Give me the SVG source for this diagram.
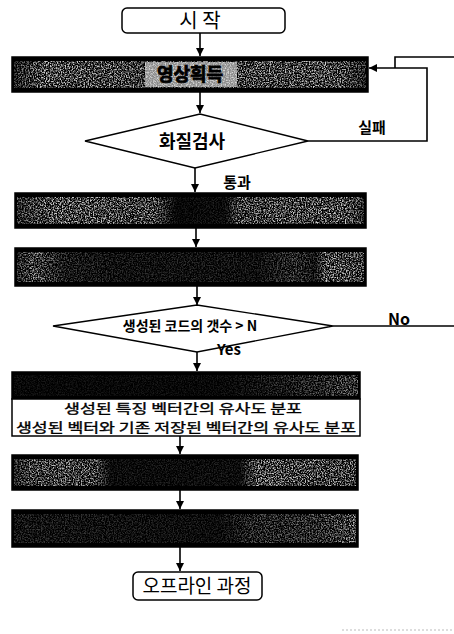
<svg xmlns="http://www.w3.org/2000/svg" width="454" height="634" viewBox="0 0 454 634">
<style>
.ln{fill:none;stroke:#000;stroke-width:1.6}
.k{font-family:"Noto Sans CJK KR","Liberation Sans",sans-serif;fill:#000}
.b{font-weight:bold}
.term{fill:#fff;stroke:#000;stroke-width:1.5}
.dia{fill:#fff;stroke:#000;stroke-width:1.4}
.dark{fill:#000;stroke:#000;stroke-width:1.5}
</style>
<defs>
<marker id="ah" viewBox="0 0 10 10" refX="10" refY="5" markerWidth="8" markerHeight="8" markerUnits="userSpaceOnUse" orient="auto">
<path d="M0,0 L10,5 L0,10 z" fill="#000"/>
</marker>
<filter id="nz" x="0" y="0" width="100%" height="100%">
<feTurbulence type="fractalNoise" baseFrequency="0.75" numOctaves="2" seed="4" result="t"/>
<feColorMatrix in="t" type="matrix" values="0 0 0 0 0.9  0 0 0 0 0.9  0 0 0 0 0.9  0 0 0 3.2 -1.3" result="w"/>
<feComposite in="w" in2="SourceGraphic" operator="in"/>
</filter>
<linearGradient id="g1" x1="0" x2="1" y1="0" y2="0">
<stop offset="0" stop-color="#fff" stop-opacity="0.4"/>
<stop offset="0.08" stop-color="#fff" stop-opacity="0.85"/>
<stop offset="0.3" stop-color="#fff" stop-opacity="0.8"/>
<stop offset="0.4" stop-color="#fff" stop-opacity="0.7"/>
<stop offset="0.6" stop-color="#fff" stop-opacity="0.7"/>
<stop offset="0.7" stop-color="#fff" stop-opacity="0.8"/>
<stop offset="0.92" stop-color="#fff" stop-opacity="0.85"/>
<stop offset="1" stop-color="#fff" stop-opacity="0.4"/>
</linearGradient>
<linearGradient id="g2" x1="0" x2="1" y1="0" y2="0">
<stop offset="0" stop-color="#fff" stop-opacity="0.5"/>
<stop offset="0.1" stop-color="#fff" stop-opacity="0.85"/>
<stop offset="0.4" stop-color="#fff" stop-opacity="0.75"/>
<stop offset="0.46" stop-color="#fff" stop-opacity="0.1"/>
<stop offset="0.6" stop-color="#fff" stop-opacity="0.15"/>
<stop offset="0.64" stop-color="#fff" stop-opacity="0.75"/>
<stop offset="0.95" stop-color="#fff" stop-opacity="0.85"/>
<stop offset="1" stop-color="#fff" stop-opacity="0.5"/>
</linearGradient>
<linearGradient id="g3" x1="0" x2="1" y1="0" y2="0">
<stop offset="0" stop-color="#fff" stop-opacity="0.4"/>
<stop offset="0.05" stop-color="#fff" stop-opacity="0.75"/>
<stop offset="0.14" stop-color="#fff" stop-opacity="0.3"/>
<stop offset="0.3" stop-color="#fff" stop-opacity="0.2"/>
<stop offset="0.7" stop-color="#fff" stop-opacity="0.2"/>
<stop offset="0.8" stop-color="#fff" stop-opacity="0.45"/>
<stop offset="0.86" stop-color="#fff" stop-opacity="0.25"/>
<stop offset="0.89" stop-color="#fff" stop-opacity="0.85"/>
<stop offset="1" stop-color="#fff" stop-opacity="0.7"/>
</linearGradient>
<linearGradient id="g4" x1="0" x2="1" y1="0" y2="0">
<stop offset="0" stop-color="#fff" stop-opacity="0.1"/>
<stop offset="0.6" stop-color="#fff" stop-opacity="0.1"/>
<stop offset="0.8" stop-color="#fff" stop-opacity="0.3"/>
<stop offset="1" stop-color="#fff" stop-opacity="0.6"/>
</linearGradient>
<linearGradient id="g5" x1="0" x2="1" y1="0" y2="0">
<stop offset="0" stop-color="#fff" stop-opacity="0.4"/>
<stop offset="0.05" stop-color="#fff" stop-opacity="0.75"/>
<stop offset="0.24" stop-color="#fff" stop-opacity="0.75"/>
<stop offset="0.28" stop-color="#fff" stop-opacity="0.15"/>
<stop offset="0.66" stop-color="#fff" stop-opacity="0.15"/>
<stop offset="0.71" stop-color="#fff" stop-opacity="0.85"/>
<stop offset="1" stop-color="#fff" stop-opacity="0.75"/>
</linearGradient>
<linearGradient id="g6" x1="0" x2="1" y1="0" y2="0">
<stop offset="0" stop-color="#fff" stop-opacity="0.25"/>
<stop offset="0.6" stop-color="#fff" stop-opacity="0.15"/>
<stop offset="0.7" stop-color="#fff" stop-opacity="0.4"/>
<stop offset="0.9" stop-color="#fff" stop-opacity="0.5"/>
<stop offset="1" stop-color="#fff" stop-opacity="0.8"/>
</linearGradient>
</defs>

<g id="connectors">
<path class="ln" d="M200,33 V56" marker-end="url(#ah)"/>
<path class="ln" d="M200,92 V113" marker-end="url(#ah)"/>
<path class="ln" d="M308,141 H427 V68 H369" marker-end="url(#ah)"/>
<path class="ln" d="M454,57 H395 V68"/>
<path class="ln" d="M195,168 V192" marker-end="url(#ah)"/>
<path class="ln" d="M196,228 V247" marker-end="url(#ah)"/>
<path class="ln" d="M197,286 V305" marker-end="url(#ah)"/>
<path class="ln" d="M333,326 H454"/>
<path class="ln" d="M197,352 V371" marker-end="url(#ah)"/>
<path class="ln" d="M180,436 V454" marker-end="url(#ah)"/>
<path class="ln" d="M180,490 V509" marker-end="url(#ah)"/>
<path class="ln" d="M180,547 V571" marker-end="url(#ah)"/>
</g>

<g id="start">
<rect class="term" x="122" y="8" width="163" height="25" rx="5"/>
<text class="k" x="200" y="28" font-size="20" text-anchor="middle">시 작</text>
</g>

<g id="acquire">
<rect class="dark" x="12" y="57" width="356" height="35"/>
<rect x="145" y="62" width="92" height="25" fill="#8a8a8a"/>
<rect x="14" y="61" width="352" height="27" fill="url(#g1)" filter="url(#nz)"/>
<text class="k b" x="190" y="81" font-size="18" text-anchor="middle" stroke="#000" stroke-width="0.8">영상획득</text>
</g>

<g id="quality">
<polygon class="dia" points="85,141 200,114 308,141 195,168"/>
<text class="k b" x="192" y="148" font-size="18" text-anchor="middle">화질검사</text>
</g>
<text class="k b" x="372" y="133" font-size="15" text-anchor="middle">실패</text>
<text class="k b" x="237" y="188" font-size="15" text-anchor="middle">통과</text>

<g id="step2">
<rect class="dark" x="15" y="193" width="351" height="35"/>
<rect x="17" y="197" width="347" height="27" fill="url(#g2)" filter="url(#nz)"/>
</g>

<g id="step3">
<rect class="dark" x="15" y="248" width="351" height="38"/>
<rect x="17" y="252" width="347" height="30" fill="url(#g3)" filter="url(#nz)"/>
</g>

<g id="count">
<polygon class="dia" points="53,326 197,305 333,326 197,352"/>
<text class="k b" x="190" y="331" font-size="14" text-anchor="middle">생성된 코드의 갯수 &gt; N</text>
</g>
<text class="k b" x="399" y="325" font-size="16" text-anchor="middle">No</text>
<text class="k b" x="229" y="355" font-size="15" text-anchor="middle">Yes</text>

<g id="step4">
<rect class="dark" x="12" y="372" width="348" height="27"/>
<rect x="14" y="375" width="344" height="21" fill="url(#g4)" filter="url(#nz)"/>
<rect x="12" y="399" width="348" height="37" fill="#fff" stroke="#000" stroke-width="1.5"/>
<text class="k" font-size="13" text-anchor="middle" stroke="#000" stroke-width="0.35"><tspan x="183" y="413" textLength="238" lengthAdjust="spacingAndGlyphs">생성된 특징 벡터간의 유사도 분포</tspan><tspan x="186" y="432" textLength="340" lengthAdjust="spacingAndGlyphs">생성된 벡터와 기존 저장된 벡터간의 유사도 분포</tspan></text>
</g>

<g id="step5">
<rect class="dark" x="12" y="455" width="346" height="35"/>
<rect x="14" y="459" width="342" height="27" fill="url(#g5)" filter="url(#nz)"/>
</g>

<g id="step6">
<rect class="dark" x="12" y="510" width="346" height="37"/>
<rect x="14" y="514" width="342" height="29" fill="url(#g6)" filter="url(#nz)"/>
</g>

<g id="offline">
<rect class="term" x="133" y="572" width="129" height="28" rx="5"/>
<text class="k" x="197" y="593" font-size="19" text-anchor="middle">오프라인 과정</text>
</g>

<line x1="342" y1="630" x2="454" y2="630" stroke="#bbb" stroke-width="1" stroke-dasharray="2,2"/>
</svg>
